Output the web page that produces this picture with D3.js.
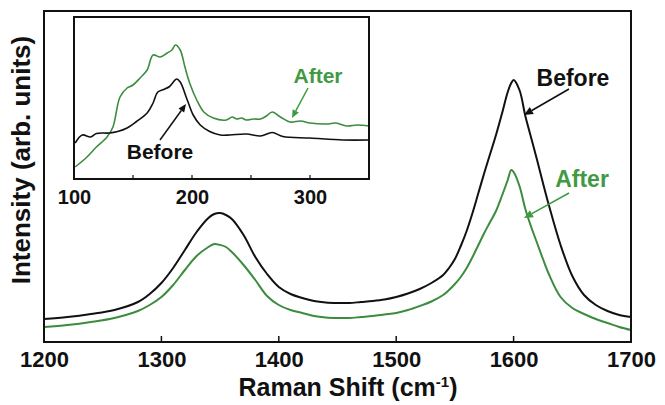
<!DOCTYPE html>
<html><head><meta charset="utf-8">
<script src="https://cdn.jsdelivr.net/npm/d3@7"></script>
<style>body{margin:0;background:#fff}svg{display:block}</style>
</head><body>
<svg id="c" width="665" height="405"></svg>
<script>
// ---- data ----
const mainShift = [1200,1220,1240,1260,1280,1290,1300,1310,1320,1330,1340,1345,1350,1355,1360,1370,1380,1390,1400,1410,1420,1430,1440,1450,1460,1470,1480,1490,1500,1510,1520,1530,1540,1545,1550,1555,1560,1565,1570,1575,1580,1585,1590,1595,1598,1600,1605,1610,1615,1620,1625,1630,1640,1650,1660,1670,1680,1690,1700];
const mainBefore = [23,25,28,32,40,48,59,74,92,110,124,128,129,127,123,107,85,68,55,48,44,41,39.5,39,39,40,41,42.5,45,48.5,53,59,67,74,83,96,111,129,149,169,188,207,228,250,259,262,252,226,204,182,159,137,97,66,47,37,31,27,25];
const mainAfter = [15,17,20,24,31,37,45,57,72,86,95,98,97,95,90,77,62,46,37,32,29,26,24.5,24,24,25,26,27.5,29,32,36,40.5,47,52,58,65,74,85,97,109,120,131,146,162,172,170,156,133,115,99,83,68,45,34,28,23,19,15,12];
const mainTicks = [1200,1300,1400,1500,1600,1700];

const insetShiftBefore = [101,107,114,119,130,137,145,153,162,167,171,176,181,187,190,196,201,207,215,224,232,246,258,268,277,300,328,350];
const insetBefore = [36,44,42,45.5,46,47.5,51,57.5,66,76,87,89.5,92.5,100,97,79,64,54,47.5,44,44,45,43,46.5,42.5,41,39,39];
const insetShiftAfter = [101,111,119,128,133,139,145,150,156,162,167,173,179,183,186,190,194,198,204,210,218,229,234,238,242,246,252,258,263,268,275,283,292,300,314,322,331,340,350];
const insetAfter = [12,22,32,42,52,82,91,94,101,109,124,122,126,129,134,129,112,96,79,67,61,59,62,60,61,59,60,60,63,67,62,57,58,56,55,56,53,54,53];
const insetTicks = [100,200,300];
const insetMinor = [150,250];

// ---- layout ----
const svg = d3.select("#c");
const FONT = "'Liberation Sans', Arial, Helvetica, sans-serif";
const black = "#111", green = "#3c8c3f", greenText = "#3f9a43";

const x = d3.scaleLinear().domain([1200,1700]).range([44,631]);
const y = d3.scaleLinear().domain([0,331]).range([342,11]);

const line = (xs, ys, sx, sy) => d3.line().curve(d3.curveCatmullRom.alpha(0.5))
  .x((d,i)=>sx(xs[i])).y((d,i)=>sy(ys[i]))(ys);

svg.append("path").attr("d", line(mainShift, mainAfter, x, y))
  .attr("fill","none").attr("stroke",green).attr("stroke-width",2);
svg.append("path").attr("d", line(mainShift, mainBefore, x, y))
  .attr("fill","none").attr("stroke",black).attr("stroke-width",2);

// frame
svg.append("rect").attr("x",44).attr("y",11).attr("width",587).attr("height",331)
  .attr("fill","none").attr("stroke",black).attr("stroke-width",2);

// bottom axis (ticks inward)
const xAxis = d3.axisBottom(x).tickValues(mainTicks).tickSize(0).tickPadding(0).tickFormat(d3.format("d"));
const gx = svg.append("g").attr("transform","translate(0,342)").call(xAxis);
gx.select(".domain").remove();
gx.selectAll("text").attr("y",25).attr("dy",0).attr("font-family",FONT).attr("font-weight","bold").attr("font-size",22).attr("fill",black);
svg.append("g").selectAll("line").data(mainTicks.slice(1,-1)).join("line")
  .attr("x1",d=>x(d)).attr("x2",d=>x(d)).attr("y1",342).attr("y2",336)
  .attr("stroke",black).attr("stroke-width",1.5);

svg.append("text").attr("x",348).attr("y",396).attr("text-anchor","middle")
  .attr("font-family",FONT).attr("font-weight","bold").attr("font-size",25).attr("fill",black)
  .call(t=>{t.append("tspan").text("Raman Shift (cm");
            t.append("tspan").attr("dy",-9).attr("font-size",15).text("-1");
            t.append("tspan").attr("dy",9).text(")");});
svg.append("text").attr("transform","translate(30,160) rotate(-90)").attr("text-anchor","middle")
  .attr("font-family",FONT).attr("font-weight","bold").attr("font-size",26).attr("fill",black)
  .text("Intensity (arb. units)");

// arrows helper
function arrow(x1,y1,x2,y2,color,w,hl,hw){
  const a = Math.atan2(y2-y1,x2-x1);
  const bx = x2 - hl*Math.cos(a), by = y2 - hl*Math.sin(a);
  svg.append("line").attr("x1",x1).attr("y1",y1).attr("x2",bx).attr("y2",by)
    .attr("stroke",color).attr("stroke-width",w);
  const px = -Math.sin(a)*hw, py = Math.cos(a)*hw;
  svg.append("path").attr("d",`M${x2},${y2}L${bx+px},${by+py}L${bx-px},${by-py}Z`).attr("fill",color);
}
function label(tx,ty,txt,color,size){
  svg.append("text").attr("x",tx).attr("y",ty).attr("text-anchor","middle")
    .attr("font-family",FONT).attr("font-weight","bold").attr("font-size",size).attr("fill",color).text(txt);
}
label(573,86,"Before",black,23);
arrow(569,89,524,115,black,1.6,9,4);
label(582,187,"After",greenText,23);
arrow(569,193,524,218,greenText,1.6,9,4);

// ---- inset ----
const ix = d3.scaleLinear().domain([100,350]).range([74,369]);
const iy = d3.scaleLinear().domain([0,162]).range([179,17]);
svg.append("rect").attr("x",74).attr("y",17).attr("width",295).attr("height",162).attr("fill","#fff");
svg.append("clipPath").attr("id","ic").append("rect").attr("x",74).attr("y",17).attr("width",295).attr("height",162);
const ig = svg.append("g").attr("clip-path","url(#ic)");
ig.append("path").attr("d", line(insetShiftAfter, insetAfter, ix, iy))
  .attr("fill","none").attr("stroke",green).attr("stroke-width",1.6);
ig.append("path").attr("d", line(insetShiftBefore, insetBefore, ix, iy))
  .attr("fill","none").attr("stroke",black).attr("stroke-width",1.6);
svg.append("rect").attr("x",74).attr("y",17).attr("width",295).attr("height",162)
  .attr("fill","none").attr("stroke",black).attr("stroke-width",2);
svg.append("g").selectAll("line").data(insetMinor.concat([200,300])).join("line")
  .attr("x1",d=>ix(d)).attr("x2",d=>ix(d)).attr("y1",179).attr("y2",175)
  .attr("stroke",black).attr("stroke-width",1.2);
const iAxis = d3.axisBottom(ix).tickValues(insetTicks).tickSize(0).tickPadding(0).tickFormat(d3.format("d"));
const gi = svg.append("g").attr("transform","translate(0,179)").call(iAxis);
gi.select(".domain").remove();
gi.selectAll("text").attr("y",25).attr("dy",0).attr("font-family",FONT).attr("font-weight","bold").attr("font-size",20).attr("fill",black);

label(160,159,"Before",black,21);
arrow(160,140,186,104,black,1.5,8,3.5);
label(318,83,"After",greenText,21);
arrow(308,88,292,118,greenText,1.5,8,3.5);
</script>
</body></html>
